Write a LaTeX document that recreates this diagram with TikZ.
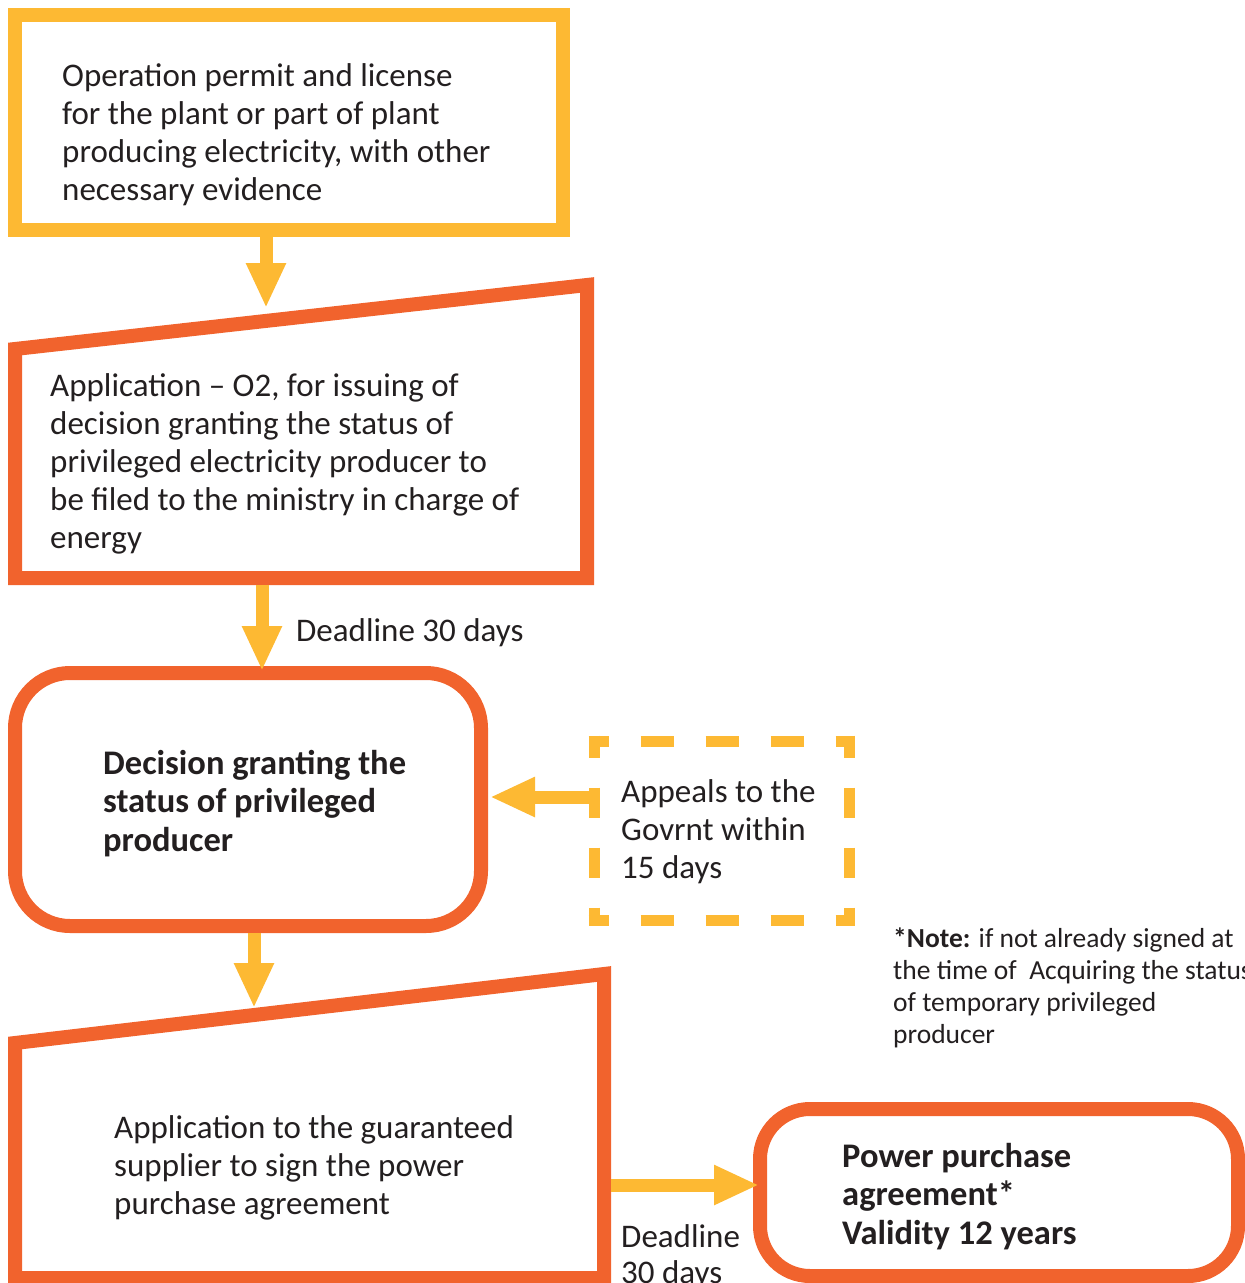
\documentclass[tikz,border=0pt]{standalone}
\usepackage{fontspec}
\setmainfont{Carlito}
\usetikzlibrary{arrows.meta}

\definecolor{amarillo}{RGB}{253,185,51}
\definecolor{naranja}{RGB}{241,99,45}
\definecolor{tinta}{RGB}{35,31,32}

\tikzset{
  caja/.style={draw=naranja, line width=14pt, line join=miter},
  redonda/.style={draw=naranja, line width=14pt, inner sep=0pt},
  flecha/.style={draw=amarillo, line width=13pt, -{Triangle[width=37pt,length=45pt]}},
  trazos/.style={draw=amarillo, line width=11pt},
  texto/.style={anchor=base west, align=left, inner sep=0pt, text=tinta,
                font=\fontsize{33}{38}\selectfont},
  negrita/.style={texto, font=\fontsize{34.5}{38.5}\selectfont\bfseries},
  nota/.style={texto, font=\fontsize{27.5}{32}\selectfont}
}

\begin{document}
\begin{tikzpicture}[x=1pt, y=-1pt]
    \useasboundingbox (0,0) rectangle (1245,1283);

    % -----------------------------------------------------
    % 1) Permit and license (yellow box)
    % -----------------------------------------------------
    \node[draw=amarillo, line width=14pt, inner sep=0pt,
          minimum width=548pt, minimum height=215pt] (permiso) at (289,122.5) {};
    \node[texto] (tpermiso) at (62,200)
        {Operation permit and license\\for the plant or part of plant\\producing electricity, with other\\necessary evidence};

    % -----------------------------------------------------
    % 2) Application O2 (slanted top)
    % -----------------------------------------------------
    \draw[caja] (15,349) -- (587,285) -- (587,578) -- (15,578) -- cycle;
    \coordinate (solarriba) at (266,308);
    \coordinate (solabajo) at (262,585);
    \node[texto] (tsolicitud) at (50,548)
        {Application -- O2, for issuing of\\decision granting the status of\\privileged electricity producer to\\be filed to the ministry in charge of\\energy};

    % -----------------------------------------------------
    % 3) Decision (rounded box)
    % -----------------------------------------------------
    \node[redonda, rounded corners=55pt,
          minimum width=466pt, minimum height=253pt] (decision) at (248,799.5) {};
    \node[negrita] (tdecision) at (103,851)
        {Decision granting the\\status of privileged\\producer};
    \node[texto] (plazo1) at (296,641) {Deadline 30 days};

    % -----------------------------------------------------
    % 4) Appeals (dashed box)
    % -----------------------------------------------------
    \coordinate (apA) at (594,741);
    \coordinate (apB) at (849,741);
    \coordinate (apC) at (849,920);
    \coordinate (apD) at (594,920);
    \coordinate (apelacion) at (594,797);
    \draw[trazos, dash pattern=on 33pt off 32pt, dash phase=13pt] ([xshift=-5.5pt]apA) -- ([xshift=5.5pt]apB);
    \draw[trazos, dash pattern=on 33pt off 32pt, dash phase=13pt] ([xshift=-5.5pt]apD) -- ([xshift=5.5pt]apC);
    \draw[trazos, dash pattern=on 30pt off 30pt, dash phase=8pt] ([yshift=5.5pt]apA) -- ([yshift=-5.5pt]apD);
    \draw[trazos, dash pattern=on 30pt off 30pt, dash phase=8pt] ([yshift=5.5pt]apB) -- ([yshift=-5.5pt]apC);
    \node[texto] (tapelacion) at (621,878)
        {Appeals to the\\Govrnt within\\15 days};

    % -----------------------------------------------------
    % 5) Application to the guaranteed supplier
    % -----------------------------------------------------
    \draw[caja] (15,1043) -- (604,974) -- (604,1278) -- (15,1278) -- cycle;
    \coordinate (proarriba) at (254,1008);
    \coordinate (proderecha) at (611,1185);
    \node[texto] (tproveedor) at (114,1214)
        {Application to the guaranteed\\supplier to sign the power\\purchase agreement};
    \node[texto, font=\fontsize{33}{36}\selectfont] (plazo2) at (621,1283) {Deadline\\30 days};

    % -----------------------------------------------------
    % 6) Power purchase agreement and note
    % -----------------------------------------------------
    \node[redonda, rounded corners=50pt,
          minimum width=478pt, minimum height=167pt] (contrato) at (999,1192.5) {};
    \node[negrita] (tcontrato) at (842,1244)
        {Power purchase\\agreement*\\Validity 12 years};
    \node[nota] (nota) at (893,1043)
        {\textbf{*Note:} if not already signed at\\the time of~~Acquiring the status\\of temporary privileged\\producer};

    % Flechas
    \draw[flecha] ([xshift=-23pt]permiso.south) -- (solarriba);
    \draw[flecha] (solabajo) -- ([xshift=14pt, yshift=-5pt]decision.north);
    \draw[flecha] (apelacion) -- ([xshift=2pt, yshift=2.5pt]decision.east);
    \draw[flecha] ([xshift=6pt]decision.south) -- (proarriba);
    \draw[flecha] (proderecha) -- ([xshift=6pt, yshift=7.5pt]contrato.west);

\end{tikzpicture}
\end{document}
